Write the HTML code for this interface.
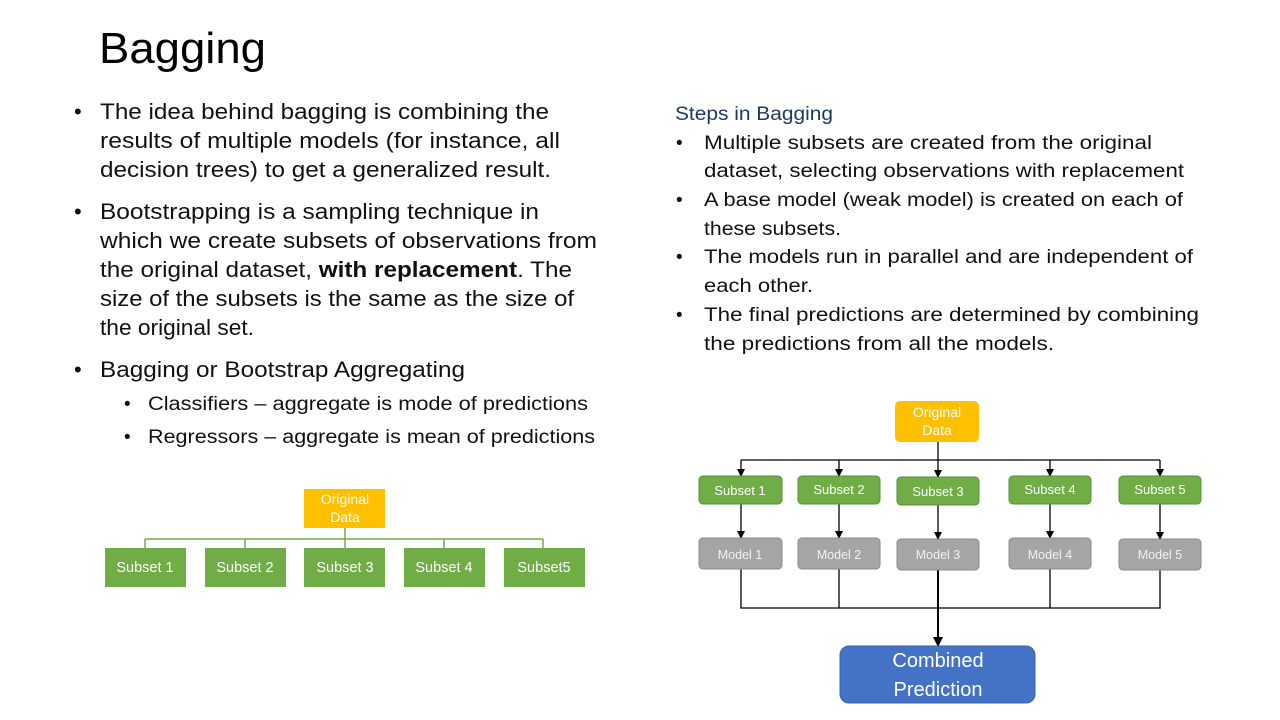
<!DOCTYPE html>
<html><head><meta charset="utf-8"><style>
body{margin:0;background:#fff}
svg{display:block;font-family:"Liberation Sans",sans-serif}
</style></head><body>
<svg width="1280" height="720" viewBox="0 0 1280 720" xmlns="http://www.w3.org/2000/svg">
<defs><marker id="a" markerWidth="8" markerHeight="8" refX="7" refY="4" orient="auto" markerUnits="userSpaceOnUse"><path d="M0,0 L8,4 L0,8 z" fill="#000"/></marker>
<marker id="b" markerWidth="10" markerHeight="10" refX="9" refY="5" orient="auto" markerUnits="userSpaceOnUse"><path d="M0,0 L10,5 L0,10 z" fill="#000"/></marker></defs>
<text x="99" y="63" font-size="44" fill="#000" textLength="167" lengthAdjust="spacingAndGlyphs">Bagging</text>
<g font-size="22" fill="#111">
<text x="74" y="119">•</text>
<text x="100" y="119" textLength="449" lengthAdjust="spacingAndGlyphs">The idea behind bagging is combining the</text>
<text x="100" y="148" textLength="460" lengthAdjust="spacingAndGlyphs">results of multiple models (for instance, all</text>
<text x="100" y="177" textLength="451" lengthAdjust="spacingAndGlyphs">decision trees) to get a generalized result.</text>
<text x="74" y="219">•</text>
<text x="100" y="219" textLength="439" lengthAdjust="spacingAndGlyphs">Bootstrapping is a sampling technique in</text>
<text x="100" y="248" textLength="497" lengthAdjust="spacingAndGlyphs">which we create subsets of observations from</text>
<text x="100" y="277" textLength="472" lengthAdjust="spacingAndGlyphs">the original dataset, <tspan font-weight="bold">with replacement</tspan>. The</text>
<text x="100" y="306" textLength="474" lengthAdjust="spacingAndGlyphs">size of the subsets is the same as the size of</text>
<text x="100" y="335" textLength="154" lengthAdjust="spacingAndGlyphs">the original set.</text>
<text x="74" y="377">•</text>
<text x="100" y="377" textLength="365" lengthAdjust="spacingAndGlyphs">Bagging or Bootstrap Aggregating</text>
</g>
<g font-size="19" fill="#111">
<text x="124" y="410">•</text>
<text x="148" y="410" textLength="440" lengthAdjust="spacingAndGlyphs">Classifiers – aggregate is mode of predictions</text>
<text x="124" y="443">•</text>
<text x="148" y="443" textLength="447" lengthAdjust="spacingAndGlyphs">Regressors – aggregate is mean of predictions</text>
</g>
<text x="675" y="120" font-size="19" fill="#1f3864" textLength="158" lengthAdjust="spacingAndGlyphs">Steps in Bagging</text>
<g font-size="19" fill="#111">
<text x="676" y="149">•</text>
<text x="704" y="149" textLength="448" lengthAdjust="spacingAndGlyphs">Multiple subsets are created from the original</text>
<text x="704" y="177" textLength="480" lengthAdjust="spacingAndGlyphs">dataset, selecting observations with replacement</text>
<text x="676" y="206">•</text>
<text x="704" y="206" textLength="479" lengthAdjust="spacingAndGlyphs">A base model (weak model) is created on each of</text>
<text x="704" y="235" textLength="137" lengthAdjust="spacingAndGlyphs">these subsets.</text>
<text x="676" y="263">•</text>
<text x="704" y="263" textLength="489" lengthAdjust="spacingAndGlyphs">The models run in parallel and are independent of</text>
<text x="704" y="292" textLength="109" lengthAdjust="spacingAndGlyphs">each other.</text>
<text x="676" y="321">•</text>
<text x="704" y="321" textLength="495" lengthAdjust="spacingAndGlyphs">The final predictions are determined by combining</text>
<text x="704" y="350" textLength="350" lengthAdjust="spacingAndGlyphs">the predictions from all the models.</text>
</g>
<!-- left diagram -->
<g stroke="#70ad47" stroke-width="1.5" fill="none">
<path d="M345,528 V539 M145,539 H543 M145,539 V548 M245,539 V548 M345,539 V548 M444,539 V548 M543,539 V548"/>
</g>
<rect x="304" y="489" width="81" height="39" fill="#ffc000"/>
<g fill="#fff" font-size="14" text-anchor="middle">
<text x="345" y="504">Original</text><text x="345" y="522">Data</text>
</g>
<g fill="#70ad47">
<rect x="105" y="548" width="81" height="39"/><rect x="205" y="548" width="81" height="39"/>
<rect x="304" y="548" width="81" height="39"/><rect x="404" y="548" width="81" height="39"/>
<rect x="504" y="548" width="81" height="39"/>
</g>
<g fill="#fff" font-size="14.5" text-anchor="middle">
<text x="145" y="572">Subset 1</text><text x="245" y="572">Subset 2</text><text x="345" y="572">Subset 3</text><text x="444" y="572">Subset 4</text><text x="544" y="572">Subset5</text>
</g>
<!-- right diagram -->
<g stroke="#000" stroke-width="1.3" fill="none">
<path d="M938,442 V460 M741,460 H1160"/>
<line x1="741" y1="460" x2="741" y2="476" marker-end="url(#a)"/>
<line x1="839" y1="460" x2="839" y2="476" marker-end="url(#a)"/>
<line x1="938" y1="460" x2="938" y2="477" marker-end="url(#a)"/>
<line x1="1050" y1="460" x2="1050" y2="476" marker-end="url(#a)"/>
<line x1="1160" y1="460" x2="1160" y2="476" marker-end="url(#a)"/>
<line x1="741" y1="504" x2="741" y2="538" marker-end="url(#a)"/>
<line x1="839" y1="504" x2="839" y2="538" marker-end="url(#a)"/>
<line x1="938" y1="505" x2="938" y2="539" marker-end="url(#a)"/>
<line x1="1050" y1="504" x2="1050" y2="538" marker-end="url(#a)"/>
<line x1="1160" y1="504" x2="1160" y2="539" marker-end="url(#a)"/>
<path d="M741,569 V608 H1160 V570 M839,569 V608 M1050,569 V608"/>
<line x1="938" y1="570" x2="938" y2="646" stroke-width="2" marker-end="url(#b)"/>
</g>
<rect x="895" y="401" width="84" height="41" rx="5" fill="#ffc000"/>
<g fill="#fff" font-size="14" text-anchor="middle">
<text x="937" y="417">Original</text><text x="937" y="435">Data</text>
</g>
<g fill="#70ad47" stroke="#5a8e3a" stroke-width="1">
<rect x="699" y="476" width="83" height="28" rx="4"/><rect x="798" y="476" width="82" height="28" rx="4"/>
<rect x="897" y="477" width="82" height="28" rx="4"/><rect x="1009" y="476" width="82" height="28" rx="4"/>
<rect x="1119" y="476" width="82" height="28" rx="4"/>
</g>
<g fill="#fff" font-size="13" text-anchor="middle">
<text x="740" y="495">Subset 1</text><text x="839" y="494">Subset 2</text><text x="938" y="496">Subset 3</text><text x="1050" y="494">Subset 4</text><text x="1160" y="494">Subset 5</text>
</g>
<g fill="#a5a5a5" stroke="#8a8a8a" stroke-width="1">
<rect x="699" y="538" width="83" height="31" rx="4"/><rect x="798" y="538" width="82" height="31" rx="4"/>
<rect x="897" y="539" width="82" height="31" rx="4"/><rect x="1009" y="538" width="82" height="31" rx="4"/>
<rect x="1119" y="539" width="82" height="31" rx="4"/>
</g>
<g fill="#f2f2f2" font-size="12.5" text-anchor="middle">
<text x="740" y="559">Model 1</text><text x="839" y="559">Model 2</text><text x="938" y="559">Model 3</text><text x="1050" y="559">Model 4</text><text x="1160" y="559">Model 5</text>
</g>
<rect x="840" y="646" width="195" height="57" rx="9" fill="#4472c4" stroke="#3a62aa"/>
<g fill="#fff" font-size="20" text-anchor="middle">
<text x="938" y="667">Combined</text><text x="938" y="696">Prediction</text>
</g>
</svg>
</body></html>
